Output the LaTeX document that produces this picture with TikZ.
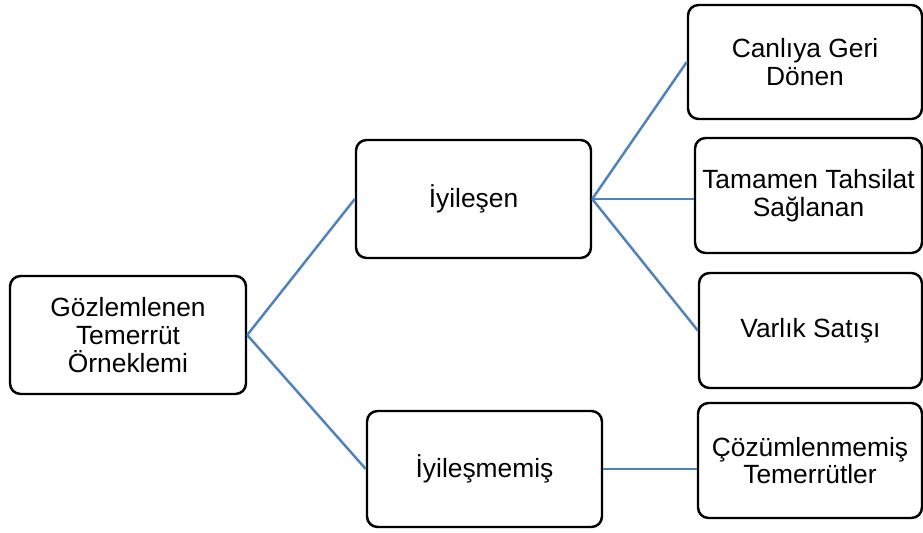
\documentclass[tikz,border=0pt]{standalone}
\usepackage{fontspec}
\setmainfont{Liberation Sans}
\usepackage{tikz}
\usetikzlibrary{positioning}
\definecolor{lnkBlue}{HTML}{4f81bd}
\tikzset{
  box/.style={rounded corners=6pt, draw=black, line width=1.4pt, fill=white,
              align=center, inner sep=1pt, font=\fontsize{15}{15.8}\selectfont},
  link/.style={draw=lnkBlue, line width=1.4pt},
}
\begin{document}
\begin{tikzpicture}
        \useasboundingbox (0,0) rectangle (18.46,10.64);
        % root
        \node[box,minimum width=4.72cm,minimum height=2.36cm] (root) at (2.56,3.94){Gözlemlenen\\Temerrüt\\Örneklemi};
        % second level
        \node[box,minimum width=4.7cm,minimum height=2.36cm] (iy) at (9.47,6.66){İyileşen};
        \node[box,minimum width=4.7cm,minimum height=2.32cm] (iym) at (9.69,1.26){İyileşmemiş};
        % leaves
        \node[box,minimum width=4.68cm,minimum height=2.28cm] (cgd) at (16.1,9.4){Canlıya Geri\\Dönen};
        \node[box,minimum width=4.54cm,minimum height=2.3cm] (tts) at (16.17,6.73){Tamamen Tahsilat\\Sağlanan};
        \node[box,minimum width=4.46cm,minimum height=2.3cm] (vs) at (16.21,4.03){Varlık Satışı};
        \node[box,minimum width=4.48cm,minimum height=2.3cm] (ct) at (16.2,1.43){Çözümlenmemiş\\Temerrütler};
        % connectors
        \draw[link] (root.east) -- (iy.west);
        \draw[link] (root.east) -- (iym.west);
        \draw[link] (iy.east) -- (cgd.west);
        \draw[link] (iy.east) -- (iy.east -| tts.west);
        \draw[link] (iy.east) -- (vs.west);
        \draw[link] (iym.east) -- (iym.east -| ct.west);
      \end{tikzpicture}
\end{document}
